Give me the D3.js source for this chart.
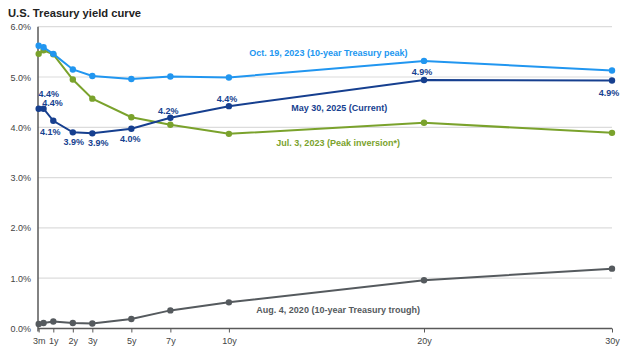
<!DOCTYPE html>
<html>
<head>
<meta charset="utf-8">
<script src="https://cdn.jsdelivr.net/npm/d3@7"></script>
<style>
  body { margin: 0; background: #fff; }
  text { font-family: "Liberation Sans", Arial, sans-serif; }
</style>
</head>
<body>
<div id="chart"></div>
<script>
// maturities in years (3m, 6m, 1y, ...)
var maturities = [0.25, 0.5, 1, 2, 3, 5, 7, 10, 20, 30];
var tickMaturities = [0.25, 1, 2, 3, 5, 7, 10, 20, 30];
var tickLabels = ["3m", "1y", "2y", "3y", "5y", "7y", "10y", "20y", "30y"];
var yTicks = [0, 1, 2, 3, 4, 5, 6];

var oct2023 = [5.62, 5.59, 5.46, 5.15, 5.02, 4.96, 5.01, 4.99, 5.32, 5.13];
var jul2023 = [5.46, 5.53, 5.45, 4.95, 4.57, 4.20, 4.05, 3.87, 4.09, 3.89];
var may2025 = [4.37, 4.37, 4.13, 3.90, 3.88, 3.97, 4.19, 4.42, 4.94, 4.93];
var aug2020 = [0.09, 0.11, 0.14, 0.11, 0.10, 0.19, 0.36, 0.52, 0.96, 1.19];

var currentLabels = ["4.4%", "4.4%", "4.1%", "3.9%", "3.9%", "4.0%", "4.2%", "4.4%", "4.9%", "4.9%"];
// label offsets from the point, px
var labelDx = [10, 9, -3, 1, 6, -1, -2, -2, -2, -3];
var labelDy = [-15, -6, 11, 10, 10, 10, -7, -7, -8, 12];

var series = [
  {name: "Aug. 4, 2020 (10-year Treasury trough)", values: aug2020, color: "#555a5e", lx: 15.6, ly: 0.37},
  {name: "Jul. 3, 2023 (Peak inversion*)", values: jul2023, color: "#7aa22c", lx: 15.6, ly: 3.69},
  {name: "Oct. 19, 2023 (10-year Treasury peak)", values: oct2023, color: "#2196f0", lx: 15.1, ly: 5.47},
  {name: "May 30, 2025 (Current)", values: may2025, color: "#163f8f", lx: 15.66, ly: 4.38}
];

var width = 624, height = 354;
var svg = d3.select("#chart").append("svg").attr("width", width).attr("height", height);

var x = d3.scaleLinear().domain([0, 20, 30]).range([33.8, 424, 612]);
var y = d3.scaleLinear().domain([0, 6]).range([328.5, 26.7]);

svg.append("text").attr("x", 8).attr("y", 17).text("U.S. Treasury yield curve")
  .attr("font-size", "11.2px").attr("font-weight", "bold").attr("fill", "#222");

// gridlines
svg.append("g").selectAll("line").data(yTicks.slice(1)).enter().append("line")
  .attr("x1", 38).attr("x2", 612)
  .attr("y1", d => y(d)).attr("y2", d => y(d))
  .attr("stroke", "#dcdcdc").attr("stroke-width", 1.2);

// y labels
svg.append("g").selectAll("text").data(yTicks).enter().append("text")
  .attr("x", 31).attr("y", d => y(d) + 3.5).attr("text-anchor", "end")
  .attr("font-size", "9px").attr("fill", "#444")
  .text(d => d3.format(".1f")(d) + "%");

// x axis
var xAxis = d3.axisBottom(x).tickValues(tickMaturities).tickSize(4)
  .tickFormat((d, i) => tickLabels[i]);
var gx = svg.append("g").attr("transform", "translate(0," + y(0) + ")").call(xAxis);
gx.select(".domain").attr("d", "M38,0H612").attr("stroke", "#595959").attr("stroke-width", 1.5);
gx.selectAll(".tick line").attr("stroke", "#595959").attr("stroke-width", 1);
gx.selectAll(".tick text").attr("font-size", "9px").attr("fill", "#444").attr("dy", "0.9em")
  .attr("font-family", "Liberation Sans, Arial, sans-serif");

// y axis line
svg.append("line").attr("x1", 38).attr("x2", 38).attr("y1", y(6)).attr("y2", y(0) + 3)
  .attr("stroke", "#595959").attr("stroke-width", 1.5);

var line = d3.line().x((d, i) => x(maturities[i])).y(d => y(d));

series.forEach(function(s) {
  var g = svg.append("g");
  g.append("path").attr("d", line(s.values)).attr("fill", "none")
    .attr("stroke", s.color).attr("stroke-width", 2);
  g.selectAll("circle").data(s.values).enter().append("circle")
    .attr("cx", (d, i) => x(maturities[i])).attr("cy", d => y(d)).attr("r", 3.2)
    .attr("fill", s.color);
  g.append("text").attr("x", x(s.lx)).attr("y", y(s.ly) + 3)
    .attr("text-anchor", "middle").attr("font-size", "9px").attr("font-weight", "bold")
    .attr("fill", s.color).text(s.name);
});

// current curve value labels
svg.append("g").selectAll("text").data(may2025).enter().append("text")
  .attr("x", (d, i) => x(maturities[i]) + labelDx[i])
  .attr("y", (d, i) => y(d) + labelDy[i] + 3)
  .attr("text-anchor", "middle").attr("font-size", "9px").attr("font-weight", "bold")
  .attr("fill", "#163f8f").text((d, i) => currentLabels[i]);
</script>
</body>
</html>
